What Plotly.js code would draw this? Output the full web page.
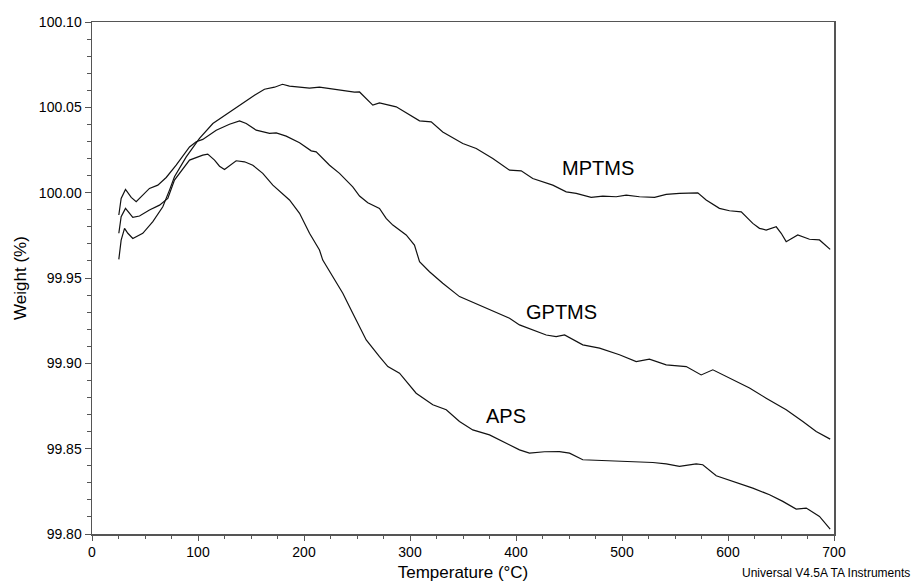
<!DOCTYPE html>
<html>
<head>
<meta charset="utf-8">
<script src="https://cdn.plot.ly/plotly-3.0.1.min.js"></script>
<style>
html,body{margin:0;padding:0;background:#fff;}
#chart{width:914px;height:582px;}
</style>
</head>
<body>
<div id="chart"></div>
<script>
// Temperature (°C) and Weight (%)
const mptmsT = [25.3,27.5,30.7,33.8,38.5,47.9,57.4,66.8,73.1,77.8,88.9,101.4,114.0,129.7,145.5,153.3,162.7,172.2,179.7,186.3,195.8,205.2,214.6,228.8,238.2,247.6,252.4,258.0,264.9,271.2,287.0,309.0,320.0,330.9,349.8,362.5,378.1,393.9,404.9,415.8,434.7,447.4,456.8,470.9,481.9,494.5,504.0,516.5,530.7,541.7,554.2,571.5,579.4,591.9,601.4,612.5,623.4,629.7,636.0,645.5,650.2,654.9,665.8,676.9,686.3,696.4];
const mptmsW = [99.9609,99.9722,99.9791,99.9762,99.9732,99.9762,99.9830,99.9917,100.0015,100.0093,100.0210,100.0318,100.0405,100.0473,100.0542,100.0571,100.0606,100.0618,100.0635,100.0624,100.0618,100.0612,100.0618,100.0606,100.0594,100.0589,100.0590,100.0553,100.0513,100.0526,100.0503,100.0421,100.0415,100.0356,100.0288,100.0259,100.0200,100.0132,100.0128,100.0083,100.0044,100.0005,99.9996,99.9972,99.9980,99.9976,99.9986,99.9976,99.9972,99.9990,99.9996,99.9999,99.9957,99.9908,99.9894,99.9888,99.9820,99.9791,99.9781,99.9800,99.9762,99.9713,99.9752,99.9727,99.9723,99.9668];

const gptmsT = [25.3,27.5,31.6,37.0,41.7,47.9,54.2,62.1,70.0,79.4,92.0,98.3,104.5,117.2,129.7,139.2,145.5,154.9,167.5,173.8,183.2,195.8,206.8,211.5,224.1,233.5,246.0,252.4,260.2,271.2,277.5,283.8,296.4,304.2,309.0,318.4,330.9,346.7,365.6,384.4,393.9,403.3,415.8,428.5,437.9,445.8,463.0,478.8,497.6,513.4,525.9,541.7,560.6,574.7,585.7,601.4,620.3,636.0,654.9,670.6,683.2,696.4];
const gptmsW = [99.9869,99.9966,100.0019,99.9972,99.9947,99.9986,100.0025,100.0044,100.0089,100.0161,100.0268,100.0298,100.0312,100.0366,100.0401,100.0421,100.0405,100.0366,100.0347,100.0350,100.0331,100.0292,100.0245,100.0239,100.0161,100.0113,100.0034,99.9980,99.9941,99.9908,99.9849,99.9810,99.9752,99.9693,99.9596,99.9537,99.9469,99.9391,99.9342,99.9293,99.9264,99.9225,99.9196,99.9166,99.9157,99.9166,99.9108,99.9089,99.9050,99.9010,99.9024,99.8991,99.8981,99.8932,99.8962,99.8913,99.8855,99.8796,99.8728,99.8659,99.8600,99.8556];

const apsT = [25.3,27.5,31.6,38.5,44.8,54.2,63.7,71.5,77.8,92.0,104.5,109.2,115.6,120.3,125.0,131.3,136.0,143.9,151.7,161.1,170.6,186.3,195.8,205.2,214.6,217.7,227.2,236.6,246.0,258.7,271.2,279.1,290.1,305.8,321.5,334.2,346.7,359.2,375.0,390.8,403.3,412.7,426.9,441.0,450.5,463.0,485.1,510.2,529.1,541.7,554.2,570.0,576.2,588.9,604.5,623.4,639.2,651.7,664.3,673.8,686.3,696.4];
const apsW = [99.9762,99.9859,99.9908,99.9855,99.9863,99.9898,99.9927,99.9966,100.0074,100.0191,100.0220,100.0226,100.0191,100.0155,100.0136,100.0167,100.0187,100.0181,100.0161,100.0113,100.0044,99.9957,99.9879,99.9762,99.9664,99.9605,99.9508,99.9411,99.9293,99.9137,99.9039,99.8981,99.8942,99.8825,99.8757,99.8728,99.8659,99.8610,99.8581,99.8533,99.8493,99.8474,99.8482,99.8483,99.8474,99.8435,99.8431,99.8425,99.8419,99.8411,99.8396,99.8411,99.8406,99.8341,99.8308,99.8269,99.8230,99.8191,99.8146,99.8152,99.8103,99.8029];

const seriesNames = ["MPTMS","GPTMS","APS"];
const labelT = [477.4, 442.9, 390.1];
const labelW = [100.0147, 99.9301, 99.8692];
const yTickVals = [99.80,99.85,99.90,99.95,100.00,100.05,100.10];
const yTickText = ["99.80","99.85","99.90","99.95","100.00","100.05","100.10"];
const xTickVals = [0,100,200,300,400,500,600,700];
const xTickText = ["0","100","200","300","400","500","600","700"];

const FONT = "Liberation Sans, Arial, Helvetica, sans-serif";
const lineStyle = {color:"#111111", width:1.2};

const data = [
  {x:mptmsT, y:mptmsW, name:seriesNames[0], mode:"lines", line:lineStyle},
  {x:gptmsT, y:gptmsW, name:seriesNames[1], mode:"lines", line:lineStyle},
  {x:apsT, y:apsW, name:seriesNames[2], mode:"lines", line:lineStyle}
];

const annotations = seriesNames.map((n,i)=>({
  x:labelT[i], y:labelW[i], xref:"x", yref:"y", text:n, showarrow:false,
  font:{family:FONT, size:20, color:"#000"}
}));
annotations.push({
  x:1.1055, y:-0.076, xref:"paper", yref:"paper", xanchor:"right", yanchor:"middle",
  text:"Universal V4.5A TA Instruments", showarrow:false,
  font:{family:FONT, size:12, color:"#000"}
});

const axisCommon = {
  showgrid:false, zeroline:false, showline:true, linecolor:"#555555", linewidth:1.5,
  mirror:true, ticks:"outside", tickcolor:"#555555", tickwidth:1,
  tickfont:{family:FONT, size:14, color:"#000"}
};

const layout = {
  width:914, height:582,
  margin:{l:92, r:80, t:22, b:48, pad:0},
  paper_bgcolor:"#ffffff", plot_bgcolor:"#ffffff",
  showlegend:false,
  font:{family:FONT},
  xaxis:Object.assign({}, axisCommon, {
    range:[0,700], tickmode:"array", tickvals:xTickVals, ticktext:xTickText, ticklen:5,
    minor:{dtick:25, ticks:"outside", ticklen:3, tickcolor:"#555555", tickwidth:1, showgrid:false},
    title:{text:"Temperature (°C)", font:{family:FONT, size:17, color:"#000"}, standoff:10}
  }),
  yaxis:Object.assign({}, axisCommon, {
    range:[99.80,100.10], tickmode:"array", tickvals:yTickVals, ticktext:yTickText, ticklen:6,
    minor:{dtick:0.01, tick0:99.80, ticks:"outside", ticklen:4, tickcolor:"#555555", tickwidth:1, showgrid:false},
    title:{text:"Weight (%)", font:{family:FONT, size:17, color:"#000"}, standoff:8}
  }),
  annotations:annotations
};

Plotly.newPlot("chart", data, layout, {staticPlot:true, displayModeBar:false});
</script>
</body>
</html>
